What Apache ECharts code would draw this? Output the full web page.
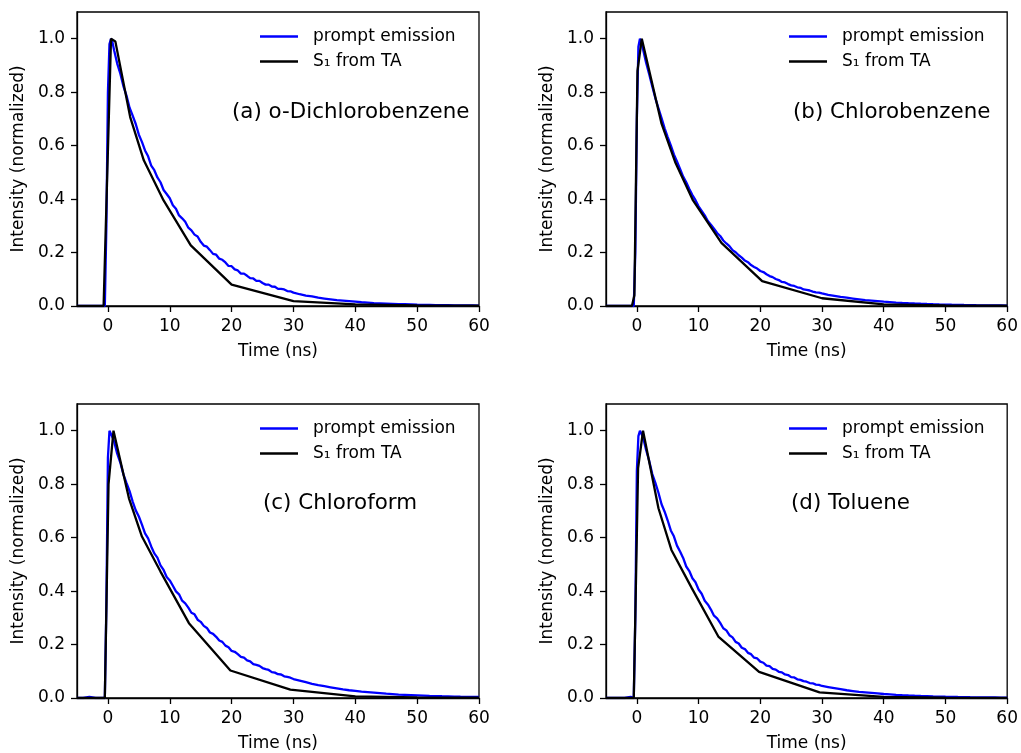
<!DOCTYPE html>
<html>
<head>
<meta charset="utf-8">
<title>Prompt emission vs S1 from TA</title>
<script src="https://cdn.jsdelivr.net/npm/echarts@6/dist/echarts.min.js"></script>
<style>
  html, body { margin: 0; padding: 0; background: #fff; }
  #chart { width: 1021px; height: 753px; }
</style>
</head>
<body>
<div id="chart"></div>
<script>
// Axis ticks
const timeTicks = [0, 10, 20, 30, 40, 50, 60];
const intensityTicks = [0, 0.2, 0.4, 0.6, 0.8, 1.0];

// Panel titles
const panelTitles = ['(a) o-Dichlorobenzene', '(b) Chlorobenzene', '(c) Chloroform', '(d) Toluene'];
const seriesNames = ['prompt emission', 'S\u2081 from TA'];

// Time base of the prompt-emission traces (ns)
const promptTime = [-5, -4, -3, -2, -1, -0.5, -0.25, 0, 0.25, 0.5, 0.75,
  1, 1.5, 2, 2.5, 3, 3.5, 4, 4.5, 5, 5.5, 6, 6.5, 7, 7.5, 8, 8.5, 9, 9.5, 10,
  10.5, 11, 11.5, 12, 12.5, 13, 13.5, 14, 14.5, 15, 15.5, 16, 16.5, 17, 17.5, 18, 18.5, 19, 19.5, 20,
  20.5, 21, 21.5, 22, 22.5, 23, 23.5, 24, 24.5, 25, 25.5, 26, 26.5, 27, 27.5, 28, 28.5, 29, 29.5, 30,
  31, 32, 33, 34, 35, 36, 37, 38, 39, 40, 41, 42, 43, 44, 45, 46, 47, 48, 49, 50,
  51, 52, 53, 54, 55, 56, 57, 58, 59, 60];

// (a) o-Dichlorobenzene
const promptA = [0, 0, 0, 0, 0, 0, 0.3, 0.8, 0.98, 1.0, 0.985,
  0.957, 0.907, 0.870, 0.823, 0.787, 0.742, 0.712, 0.681, 0.641, 0.614, 0.582, 0.560, 0.525, 0.508, 0.481, 0.463, 0.434, 0.419, 0.403,
  0.377, 0.364, 0.339, 0.328, 0.315, 0.293, 0.283, 0.267, 0.260, 0.240, 0.226, 0.222, 0.209, 0.195, 0.192, 0.177, 0.173, 0.163, 0.150, 0.149,
  0.137, 0.133, 0.121, 0.121, 0.113, 0.104, 0.103, 0.094, 0.094, 0.086, 0.080, 0.080, 0.073, 0.072, 0.064, 0.064, 0.062, 0.056, 0.055, 0.050,
  0.044, 0.039, 0.036, 0.031, 0.028, 0.025, 0.022, 0.020, 0.018, 0.016, 0.014, 0.013, 0.011, 0.010, 0.009, 0.008, 0.007, 0.0065, 0.006, 0.005,
  0.0045, 0.004, 0.0035, 0.0035, 0.003, 0.0025, 0.0025, 0.002, 0.002, 0.0015];
const taTimeA = [-5, -0.7, 0.5, 1.2, 3.6, 5.8, 9.0, 13.4, 20, 30, 40, 50, 60];
const taA = [0, 0, 1.0, 0.99, 0.707, 0.545, 0.395, 0.227, 0.08, 0.018, 0.006, 0.002, 0.001];

// (b) Chlorobenzene
const promptB = [0, 0, 0, 0, 0, 0, 0.2, 0.7, 0.97, 1.0, 0.985,
  0.961, 0.910, 0.867, 0.821, 0.777, 0.740, 0.703, 0.665, 0.632, 0.601, 0.567, 0.541, 0.513, 0.484, 0.463, 0.438, 0.415, 0.396, 0.373,
  0.356, 0.339, 0.318, 0.304, 0.289, 0.273, 0.262, 0.245, 0.234, 0.224, 0.209, 0.201, 0.190, 0.181, 0.170, 0.164, 0.153, 0.146, 0.140, 0.131,
  0.127, 0.119, 0.112, 0.108, 0.101, 0.097, 0.090, 0.088, 0.082, 0.077, 0.075, 0.070, 0.068, 0.062, 0.060, 0.058, 0.054, 0.051, 0.050, 0.047,
  0.042, 0.038, 0.034, 0.031, 0.028, 0.025, 0.022, 0.020, 0.018, 0.016, 0.0145, 0.013, 0.0117, 0.0105, 0.0094, 0.0084, 0.0075, 0.0067, 0.006, 0.0054,
  0.0048, 0.0043, 0.0038, 0.0034, 0.003, 0.0027, 0.0024, 0.0021, 0.0019, 0.0017];
const taTimeB = [-5, -0.8, -0.4, 0.1, 0.8, 4.0, 6.2, 9.1, 13.7, 20.3, 30, 40, 50, 60];
const taB = [0, 0, 0.04, 0.88, 1.0, 0.682, 0.539, 0.395, 0.236, 0.093, 0.029, 0.006, 0.002, 0.001];

// (c) Chloroform
const promptC = [0, 0, 0.004, 0, 0, 0, 0.35, 0.9, 1.0, 0.995, 0.975,
  0.960, 0.914, 0.881, 0.837, 0.805, 0.774, 0.735, 0.702, 0.679, 0.649, 0.616, 0.597, 0.567, 0.541, 0.525, 0.496, 0.479, 0.453, 0.440,
  0.420, 0.399, 0.388, 0.364, 0.354, 0.338, 0.319, 0.313, 0.293, 0.285, 0.270, 0.262, 0.245, 0.240, 0.229, 0.215, 0.210, 0.196, 0.190, 0.176,
  0.173, 0.164, 0.154, 0.151, 0.141, 0.137, 0.127, 0.124, 0.120, 0.112, 0.108, 0.105, 0.097, 0.095, 0.089, 0.088, 0.081, 0.079, 0.076, 0.071,
  0.065, 0.059, 0.053, 0.048, 0.044, 0.040, 0.036, 0.032, 0.029, 0.027, 0.024, 0.022, 0.020, 0.018, 0.016, 0.0145, 0.013, 0.012, 0.011, 0.010,
  0.009, 0.008, 0.0073, 0.0066, 0.006, 0.0054, 0.0049, 0.0045, 0.0041, 0.0037];
const taTimeC = [-5, -0.5, 0.1, 0.9, 3.4, 5.5, 8.5, 13.1, 19.8, 29.5, 40, 50, 60];
const taC = [0, 0, 0.8, 1.0, 0.747, 0.604, 0.473, 0.28, 0.103, 0.031, 0.006, 0.002, 0.001];

// (d) Toluene
const promptD = [0, 0, 0, 0, 0.004, 0, 0.3, 0.85, 0.98, 1.0, 0.998,
  0.976, 0.928, 0.887, 0.838, 0.805, 0.768, 0.725, 0.697, 0.664, 0.627, 0.605, 0.570, 0.548, 0.524, 0.492, 0.475, 0.448, 0.433, 0.406,
  0.390, 0.364, 0.350, 0.331, 0.308, 0.298, 0.281, 0.261, 0.253, 0.235, 0.227, 0.210, 0.204, 0.188, 0.183, 0.169, 0.164, 0.151, 0.148, 0.136,
  0.132, 0.121, 0.119, 0.109, 0.106, 0.098, 0.096, 0.088, 0.086, 0.078, 0.077, 0.070, 0.068, 0.063, 0.061, 0.056, 0.055, 0.050, 0.049, 0.045,
  0.041, 0.037, 0.033, 0.029, 0.026, 0.023, 0.021, 0.019, 0.017, 0.015, 0.0135, 0.012, 0.0107, 0.0095, 0.0085, 0.0076, 0.0068, 0.006, 0.0054, 0.0048,
  0.0043, 0.0038, 0.0034, 0.003, 0.0027, 0.0024, 0.0021, 0.0019, 0.0017, 0.0015];
const taTimeD = [-5, -0.5, 0.2, 1.0, 3.5, 5.6, 8.9, 13.2, 19.8, 29.6, 40, 50, 60];
const taD = [0, 0, 0.86, 1.0, 0.71, 0.554, 0.411, 0.23, 0.098, 0.021, 0.004, 0.001, 0];

const FONT = 'DejaVu Sans';
const BLUE = '#0000ff';
const BLACK = '#000000';

const pairs = (t, v) => t.map((x, i) => [x, v[i]]);

const panels = [
  { prompt: promptA, taTime: taTimeA, ta: taA },
  { prompt: promptB, taTime: taTimeB, ta: taB },
  { prompt: promptC, taTime: taTimeC, ta: taC },
  { prompt: promptD, taTime: taTimeD, ta: taD }
];

// 2 x 2 layout
const gridPos = [
  { left: 77, top: 12 },
  { left: 606, top: 12 },
  { left: 77, top: 404 },
  { left: 606, top: 404 }
];
const GW = 402, GH = 294;

const labelPos = [
  { x: 232, y: 112 },
  { x: 793, y: 112 },
  { x: 263, y: 503 },
  { x: 791, y: 503 }
];

const axisLineStyle = { color: '#000', width: 1.3 };
const labelStyle = { color: '#000', fontFamily: FONT, fontSize: 17 };

const option = {
  animation: false,
  backgroundColor: '#fff',
  grid: gridPos.map(p => ({
    left: p.left, top: p.top, width: GW, height: GH,
    show: true, borderColor: '#000', borderWidth: 1.3, backgroundColor: 'transparent',
    containLabel: false
  })),
  xAxis: gridPos.map((p, i) => ({
    type: 'value', gridIndex: i, min: -5, max: 60,
    name: 'Time (ns)', nameLocation: 'middle', nameGap: 37,
    nameTextStyle: labelStyle,
    axisLine: { show: true, onZero: false, lineStyle: axisLineStyle },
    axisTick: { show: true, inside: false, length: 6, lineStyle: axisLineStyle, customValues: timeTicks },
    axisLabel: { show: true, margin: 12, ...labelStyle, customValues: timeTicks, formatter: v => String(v) },
    splitLine: { show: false }
  })),
  yAxis: gridPos.map((p, i) => ({
    type: 'value', gridIndex: i, min: 0, max: 1.1,
    name: 'Intensity (normalized)', nameLocation: 'middle', nameGap: 50, nameRotate: 90,
    nameTextStyle: labelStyle,
    axisLine: { show: true, onZero: false, lineStyle: axisLineStyle },
    axisTick: { show: true, inside: false, length: 6, lineStyle: axisLineStyle, customValues: intensityTicks },
    axisLabel: { show: true, margin: 12, ...labelStyle, customValues: intensityTicks, formatter: v => v.toFixed(1) },
    splitLine: { show: false }
  })),
  legend: gridPos.map(p => ({
    orient: 'vertical',
    left: p.left + 183, top: p.top + 16,
    padding: 0, itemGap: 8, itemWidth: 38, itemHeight: 2.4,
    icon: 'rect',
    selectedMode: false,
    data: seriesNames,
    textStyle: { color: '#000', fontFamily: FONT, fontSize: 17, lineHeight: 17, padding: [0, 0, 0, 10] }
  })),
  graphic: labelPos.map((p, i) => ({
    type: 'text', x: p.x, y: p.y,
    style: { text: panelTitles[i], fill: '#000', font: '21.4px "DejaVu Sans"', verticalAlign: 'middle', align: 'left' }
  })),
  series: []
};

panels.forEach((pn, i) => {
  option.series.push({
    type: 'line', name: seriesNames[0], xAxisIndex: i, yAxisIndex: i,
    data: pairs(promptTime, pn.prompt), symbol: 'none', showSymbol: false,
    lineStyle: { color: BLUE, width: 2.3 }, itemStyle: { color: BLUE }, z: 2
  });
  option.series.push({
    type: 'line', name: seriesNames[1], xAxisIndex: i, yAxisIndex: i,
    data: pairs(pn.taTime, pn.ta), symbol: 'none', showSymbol: false,
    lineStyle: { color: BLACK, width: 2.3 }, itemStyle: { color: BLACK }, z: 3
  });
});

const chart = echarts.init(document.getElementById('chart'), null, { renderer: 'canvas' });
chart.setOption(option);
</script>
</body>
</html>
